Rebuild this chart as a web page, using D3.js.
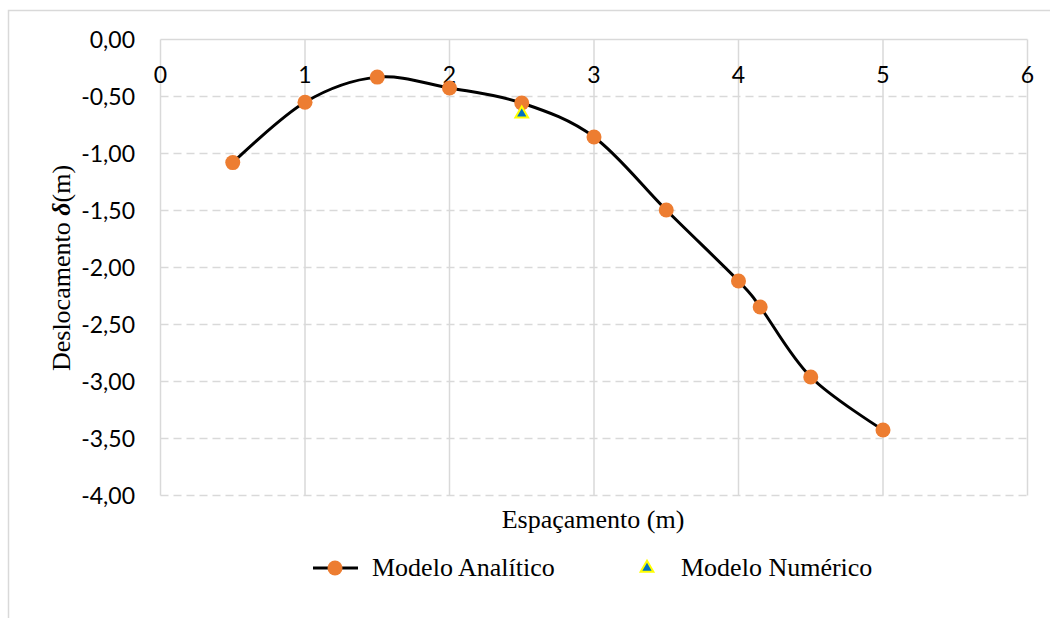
<!DOCTYPE html>
<html><head><meta charset="utf-8">
<script src="https://cdn.jsdelivr.net/npm/d3@7"></script>
<style>body{margin:0;background:#fff}</style>
</head><body>
<svg id="c" width="1050" height="618"></svg>
<script>
const xAnalitico = [0.5, 1, 1.5, 2, 2.5, 3, 3.5, 4, 4.15, 4.5, 5];
const yAnalitico = [-1.08, -0.55, -0.33, -0.425, -0.557, -0.855, -1.496, -2.118, -2.346, -2.96, -3.425];
const xNumerico = [2.5];
const yNumerico = [-0.653];
const xTicks = [0, 1, 2, 3, 4, 5, 6];
const yTicks = [0, -0.5, -1, -1.5, -2, -2.5, -3, -3.5, -4];
const seriesNames = ["Modelo Analítico", "Modelo Numérico"];

const svg = d3.select("#c");
const x = d3.scaleLinear().domain([0, 6]).range([160.5, 1027.5]);
const y = d3.scaleLinear().domain([0, -4]).range([39.5, 495.5]);
const grid = "#d9d9d9";
const sans = "Lato, 'Open Sans', sans-serif";
const serif = "'Liberation Serif', 'Times New Roman', serif";

// outer border
svg.append("rect").attr("x", 8.5).attr("y", 10.5).attr("width", 1060).attr("height", 620)
  .attr("fill", "none").attr("stroke", grid).attr("stroke-width", 1.5);

// horizontal dashed gridlines
svg.append("g").selectAll("line").data(yTicks.filter(d => d !== 0)).join("line")
  .attr("x1", x(0)).attr("x2", x(6)).attr("y1", d => y(d)).attr("y2", d => y(d))
  .attr("stroke", grid).attr("stroke-width", 1.5).attr("stroke-dasharray", "8,5");
// vertical gridlines
svg.append("g").selectAll("line").data(xTicks).join("line")
  .attr("x1", d => x(d)).attr("x2", d => x(d)).attr("y1", y(0)).attr("y2", y(-4))
  .attr("stroke", grid).attr("stroke-width", 1.5);
// top axis line (y=0)
svg.append("line").attr("x1", x(0)).attr("x2", x(6)).attr("y1", y(0)).attr("y2", y(0))
  .attr("stroke", grid).attr("stroke-width", 1.5);

// y tick labels
const fmt = v => d3.format(".2f")(v).replace(".", ",").replace("−", "-");
svg.append("g").selectAll("text").data(yTicks).join("text")
  .attr("x", 135).attr("y", d => y(d)).attr("dy", "0.35em").attr("text-anchor", "end")
  .attr("font-family", sans).attr("font-size", 23).attr("fill", "#000")
  .text(d => fmt(d === 0 ? 0 : d));
// x tick labels (below the top axis)
svg.append("g").selectAll("text").data(xTicks).join("text")
  .attr("x", d => x(d)).attr("y", 83).attr("text-anchor", "middle")
  .attr("font-family", sans).attr("font-size", 23).attr("fill", "#000")
  .text(d => d);

// axis titles
svg.append("text").attr("x", 593).attr("y", 528).attr("text-anchor", "middle")
  .attr("font-family", serif).attr("font-size", 26).text("Espaçamento (m)");
const yt = svg.append("text").attr("transform", "translate(70,268) rotate(-90)")
  .attr("text-anchor", "middle").attr("font-family", serif).attr("font-size", 26);
yt.append("tspan").text("Deslocamento ");
yt.append("tspan").attr("font-weight", "bold").attr("font-style", "italic").text("δ");
yt.append("tspan").text("(m)");

// analytic line
const pts = xAnalitico.map((v, i) => [v, yAnalitico[i]]);
svg.append("path").datum(pts)
  .attr("d", d3.line().x(d => x(d[0])).y(d => y(d[1])).curve(d3.curveCardinal.tension(0)))
  .attr("fill", "none").attr("stroke", "#000").attr("stroke-width", 3);
svg.append("g").selectAll("circle").data(pts).join("circle")
  .attr("cx", d => x(d[0])).attr("cy", d => y(d[1])).attr("r", 7.5).attr("fill", "#ED7D31");

// numeric points
const tri = d3.symbol().type(d3.symbolTriangle).size(70);
svg.append("g").selectAll("path").data(xNumerico.map((v, i) => [v, yNumerico[i]])).join("path")
  .attr("transform", d => `translate(${x(d[0])},${y(d[1])})`)
  .attr("d", tri).attr("fill", "#0070C0").attr("stroke", "#FFFF00").attr("stroke-width", 2);

// legend
const ly = 568;
svg.append("line").attr("x1", 313).attr("x2", 358).attr("y1", ly).attr("y2", ly)
  .attr("stroke", "#000").attr("stroke-width", 3);
svg.append("circle").attr("cx", 335).attr("cy", ly).attr("r", 7.5).attr("fill", "#ED7D31");
svg.append("text").attr("x", 372).attr("y", 576)
  .attr("font-family", serif).attr("font-size", 26).text(seriesNames[0]);
svg.append("path").attr("transform", `translate(647,${ly})`).attr("d", tri)
  .attr("fill", "#0070C0").attr("stroke", "#FFFF00").attr("stroke-width", 2);
svg.append("text").attr("x", 681).attr("y", 576)
  .attr("font-family", serif).attr("font-size", 26).text(seriesNames[1]);
</script>
</body></html>
